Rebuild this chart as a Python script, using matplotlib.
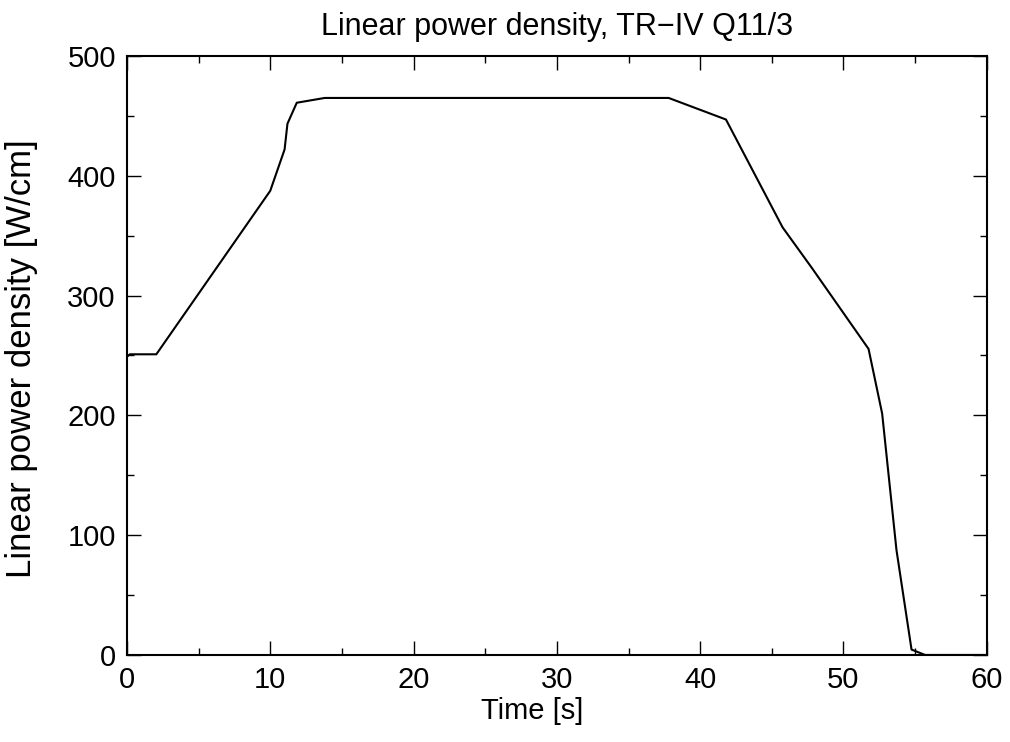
import numpy as np
from matplotlib import pyplot as plt
from matplotlib.ticker import MultipleLocator

plt.rcParams['font.family'] = ['Liberation Sans', 'DejaVu Sans']

# time [s] and linear power density [W/cm]
t = [0.0, 0.2, 2.05, 10.0, 11.0, 11.2, 11.85, 13.8, 37.8, 41.8, 45.75, 47.8, 51.75, 52.7, 53.7, 54.75, 55.7, 60.0]
q = [249, 251, 251, 387.5, 422, 443.5, 461, 465, 465, 447, 357, 323, 255.5, 201.5, 87.5, 4.5, 0, 0]

fig = plt.figure(figsize=(10.1, 7.42), dpi=100)
ax = fig.add_axes([0.1257, 0.1173, 0.977 - 0.1257, 0.9245 - 0.1173])

ax.plot(t, q, color='black', lw=1.5)

ax.set_xlim(0, 60)
ax.set_ylim(0, 500)
ax.xaxis.set_major_locator(MultipleLocator(10))
ax.xaxis.set_minor_locator(MultipleLocator(5))
ax.yaxis.set_major_locator(MultipleLocator(100))
ax.yaxis.set_minor_locator(MultipleLocator(50))
ax.tick_params(which='both', direction='in', top=True, right=True, width=1, labelsize=21)
ax.tick_params(which='major', length=10, pad=8)
ax.tick_params(which='minor', length=5)
for s in ax.spines.values():
    s.set_linewidth(1.5)

ax.set_title('Linear power density, TR\u2212IV Q11/3', fontsize=22, pad=15)
ax.set_xlabel('Time [s]', fontsize=21)
ax.set_ylabel('Linear power density [W/cm]', fontsize=25)
# gnuplot puts the labels slightly off centre
ax.xaxis.set_label_coords(0.471, -0.07)
ax.yaxis.set_label_coords(-0.104, 0.494)

plt.savefig('out.png', dpi=100)
